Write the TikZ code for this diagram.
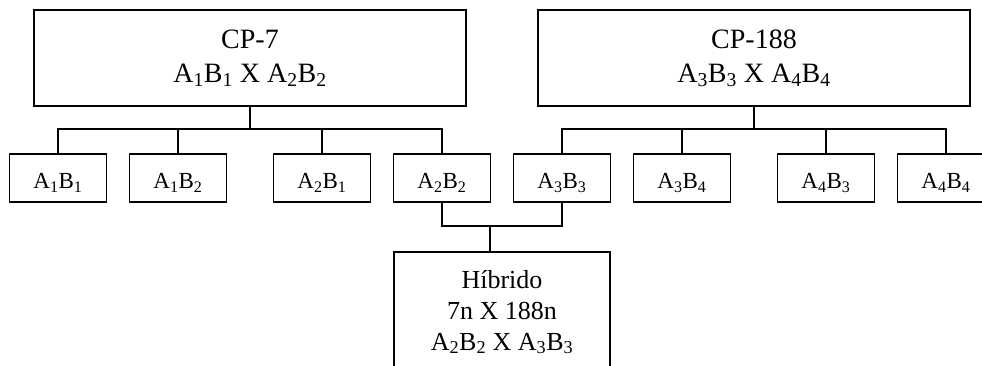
\documentclass[tikz,border=0pt]{standalone}
\usepackage{fontspec}
\setmainfont{Liberation Serif}
\newcommand{\sbs}[1]{\textsubscript{#1}}
\tikzset{
  box/.style={draw=black, line width=1.9pt, rectangle, inner sep=0pt},
  cpbox/.style={box, minimum width=432pt, minimum height=96pt, align=center,
    font=\fontsize{28}{34}\selectfont},
  gbox/.style={box, minimum width=97pt, minimum height=48pt,
    text height=21pt, text depth=0pt, font=\fontsize{23}{28}\selectfont},
  hbox/.style={box, minimum width=216pt, minimum height=120pt, align=center,
    font=\fontsize{26}{31}\selectfont},
  link/.style={draw=black, line width=1.9pt, line cap=rect}
}
\begin{document}
\begin{tikzpicture}[x=1pt,y=-1pt]
\clip (0,0) rectangle (982,366);
\fill[white] (0,0) rectangle (982,366);
% parent boxes
\node[cpbox] (cp7) at (250,58) {CP-7\\A\sbs{1}B\sbs{1} X A\sbs{2}B\sbs{2}};
\node[cpbox] (cp188) at (754,58) {CP-188\\A\sbs{3}B\sbs{3} X A\sbs{4}B\sbs{4}};
% gamete boxes
\node[gbox] (a11) at (58,178) {A\sbs{1}B\sbs{1}};
\node[gbox] (a12) at (178,178) {A\sbs{1}B\sbs{2}};
\node[gbox] (a21) at (322,178) {A\sbs{2}B\sbs{1}};
\node[gbox] (a22) at (442,178) {A\sbs{2}B\sbs{2}};
\node[gbox] (a33) at (562,178) {A\sbs{3}B\sbs{3}};
\node[gbox] (a34) at (682,178) {A\sbs{3}B\sbs{4}};
\node[gbox] (a43) at (826,178) {A\sbs{4}B\sbs{3}};
\node[gbox] (a44) at (946,178) {A\sbs{4}B\sbs{4}};
% hybrid
\node[hbox, anchor=north] (hyb) at (502,251) {Híbrido\\7n X 188n\\A\sbs{2}B\sbs{2} X A\sbs{3}B\sbs{3}};
% bus coordinates
\coordinate (bus7) at (250,129);
\coordinate (bus188) at (754,129);
\coordinate (join) at (490,226);
% connectors CP-7
\draw[link] (cp7.south) -- (bus7);
\draw[link] (a11.north) |- (bus7) -| (a22.north);
\draw[link] (a12.north) -- (a12.north |- bus7);
\draw[link] (a21.north) -- (a21.north |- bus7);
% connectors CP-188
\draw[link] (cp188.south) -- (bus188);
\draw[link] (a33.north) |- (bus188) -| (a44.north);
\draw[link] (a34.north) -- (a34.north |- bus188);
\draw[link] (a43.north) -- (a43.north |- bus188);
% cross
\draw[link] (a22.south) |- (join) -| (a33.south);
\draw[link] (join) -- (join |- hyb.north);
\end{tikzpicture}
\end{document}
